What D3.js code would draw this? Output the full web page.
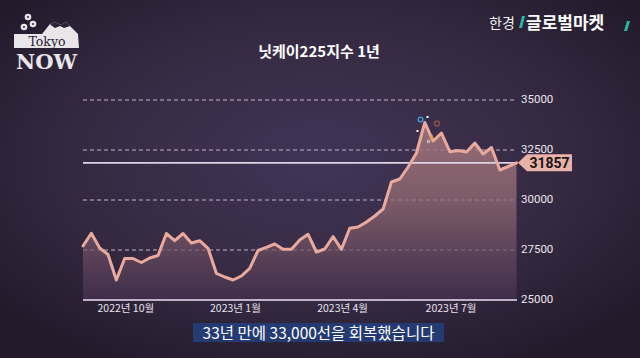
<!DOCTYPE html>
<html><head><meta charset="utf-8">
<script src="https://cdn.jsdelivr.net/npm/d3@7"></script>
<style>html,body{margin:0;padding:0;background:#2b2038;overflow:hidden}svg{display:block}</style>
</head><body><svg id="c" width="640" height="358"></svg>
<script>
// ---- data ----
const dates = ["2022-08-26","2022-09-02","2022-09-09","2022-09-16","2022-09-23","2022-09-30",
"2022-10-07","2022-10-14","2022-10-21","2022-10-28","2022-11-04","2022-11-11","2022-11-18","2022-11-25",
"2022-12-02","2022-12-09","2022-12-16","2022-12-23","2022-12-30","2023-01-06","2023-01-13","2023-01-20",
"2023-01-27","2023-02-03","2023-02-10","2023-02-17","2023-02-24","2023-03-03","2023-03-10","2023-03-17",
"2023-03-24","2023-03-31","2023-04-07","2023-04-14","2023-04-21","2023-04-28","2023-05-05","2023-05-12",
"2023-05-19","2023-05-26","2023-06-02","2023-06-09","2023-06-16","2023-06-23","2023-06-30","2023-07-07",
"2023-07-14","2023-07-21","2023-07-28","2023-08-04","2023-08-11","2023-08-18","2023-08-25"];
const values = [27700,28335,27600,27275,26000,27075,27075,26875,27100,27225,28325,27965,28325,27850,
27965,27585,26335,26150,26000,26200,26585,27475,27635,27800,27535,27535,28000,28285,27400,27550,28165,
27535,28585,28650,28900,29200,29550,30900,31050,31650,32350,33875,32950,33350,32415,32475,32400,32850,
32300,32625,31500,31675,31857];
const yTicks = [25000, 27500, 30000, 32500, 35000];
const xTickDates = ["2022-10-01","2023-01-01","2023-04-01","2023-07-01"];
const xTickLabels = ["2022년 10월","2023년 1월","2023년 4월","2023년 7월"];
const lastValue = 31857;
const title = "닛케이225지수 1년";
const caption = "33년 만에 33,000선을 회복했습니다";

// ---- setup ----
const parse = d3.timeParse("%Y-%m-%d");
const data = dates.map((d,i)=>({date:parse(d), v:values[i]}));
const svg = d3.select("#c");
const KR = "'Noto Sans CJK KR','Noto Sans',sans-serif";
const NUM = "Roboto,'Noto Sans',sans-serif";
const defs = svg.append("defs");

const bg = defs.append("radialGradient").attr("id","bg").attr("cx","50%").attr("cy","45%").attr("r","65%");
bg.append("stop").attr("offset","0%").attr("stop-color","#413457");
bg.append("stop").attr("offset","60%").attr("stop-color","#352941");
bg.append("stop").attr("offset","100%").attr("stop-color","#221a2b");
svg.append("rect").attr("width",640).attr("height",358).attr("fill","url(#bg)");

const x = d3.scaleTime().domain(d3.extent(data,d=>d.date)).range([83,516.5]);
const y = d3.scaleLinear().domain([25000,35000]).range([300,100]);

const ag = defs.append("linearGradient").attr("id","ag").attr("gradientUnits","userSpaceOnUse")
  .attr("x1",0).attr("x2",0).attr("y1",120).attr("y2",300);
ag.append("stop").attr("offset","0%").attr("stop-color","#986e78");
ag.append("stop").attr("offset","45%").attr("stop-color","#7c5b68");
ag.append("stop").attr("offset","100%").attr("stop-color","#3e2d4a");

// grid lines
const gridVals = yTicks.filter(t=>t!==25000);
svg.append("g").selectAll("line").data(gridVals).join("line")
  .attr("x1",83).attr("x2",517).attr("y1",d=>y(d)).attr("y2",d=>y(d))
  .attr("stroke","#a397b0").attr("stroke-width",1).attr("stroke-dasharray","4,3");

// area
svg.append("path").datum(data)
  .attr("d", d3.area().x(d=>x(d.date)).y0(y(25000)).y1(d=>y(d.v)))
  .attr("fill","url(#ag)");

// dashed lines over area (visible through)
svg.append("g").selectAll("line").data(gridVals).join("line")
  .attr("x1",83).attr("x2",517).attr("y1",d=>y(d)).attr("y2",d=>y(d))
  .attr("stroke","#b8a9b8").attr("stroke-opacity",0.45).attr("stroke-width",1).attr("stroke-dasharray","4,3");

// baseline
svg.append("line").attr("x1",83).attr("x2",517).attr("y1",y(25000)).attr("y2",y(25000))
  .attr("stroke","#bdb3c6").attr("stroke-width",2);

// y labels
svg.append("g").selectAll("text").data(yTicks).join("text")
  .attr("x",521).attr("y",d=>y(d)).attr("dy","0.28em")
  .attr("fill","#ebe6ef").attr("font-family",NUM).attr("font-size",11.5).text(d=>d);

// current value line
svg.append("line").attr("x1",83).attr("x2",518).attr("y1",y(lastValue)).attr("y2",y(lastValue))
  .attr("stroke","#ddd3e3").attr("stroke-width",1.6);

// line
svg.append("path").datum(data)
  .attr("d", d3.line().x(d=>x(d.date)).y(d=>y(d.v)))
  .attr("fill","none").attr("stroke","#eaa99d").attr("stroke-width",3)
  .attr("stroke-linejoin","round").attr("stroke-linecap","round");

// tag
const ty = y(lastValue);
svg.append("path").attr("d",`M${518},${ty} L${527},${ty-8.5} L${572},${ty-8.5} L${572},${ty+8.5} L${527},${ty+8.5} Z`)
  .attr("fill","#e8b2a8");
svg.append("text").attr("x",549.5).attr("y",ty+5.6).attr("text-anchor","middle")
  .attr("font-family",NUM).attr("font-weight",700).attr("font-size",14).attr("fill","#1b1418").text(lastValue);

// x labels
svg.append("g").selectAll("text").data(xTickDates).join("text")
  .attr("x",d=>x(parse(d))).attr("y",312).attr("text-anchor","middle")
  .attr("fill","#e8e2ee").attr("font-family",KR).attr("font-size",10.5).text((d,i)=>xTickLabels[i]);

// title
svg.append("text").attr("x",319).attr("y",57).attr("text-anchor","middle")
  .attr("fill","#ffffff").attr("font-family",KR).attr("font-weight",700).attr("font-size",15).text(title);

// caption
svg.append("rect").attr("x",193).attr("y",323).attr("width",251).attr("height",19).attr("fill","#243a72");
svg.append("text").attr("x",318.5).attr("y",338.5).attr("text-anchor","middle")
  .attr("fill","#ffffff").attr("font-family",KR).attr("font-size",15.5).text(caption);

// confetti near peak
const conf = svg.append("g");
conf.append("circle").attr("cx",420.5).attr("cy",119.5).attr("r",2.3).attr("fill","none").attr("stroke","#3e9fe0").attr("stroke-width",1.3);
conf.append("circle").attr("cx",437).attr("cy",123.5).attr("r",2.5).attr("fill","none").attr("stroke","#8e4e3f").attr("stroke-width",1.5);
conf.append("rect").attr("x",426.5).attr("y",116).attr("width",2).attr("height",2).attr("fill","#fff");
conf.append("rect").attr("x",416.5).attr("y",130).attr("width",2).attr("height",2).attr("fill","#fff");
conf.append("circle").attr("cx",428.5).attr("cy",141.5).attr("r",1.2).attr("fill","none").attr("stroke","#fff").attr("stroke-width",0.8);
conf.append("path").attr("d","M430,139 L432,134 L434,139 Z").attr("fill","#e8a040");

// top-left logo
const lg = svg.append("g");
lg.append("path").attr("d","M14,48 L14,34 L42,34 L50,24 L55,22 L61,25 L66,22 L72,28 L78,34 L79,48 Z").attr("fill","#e9e6ea");
lg.append("path").attr("d","M50,24 L55,22 L61,25 L66,22 L70,26 L64,28 L60,26 L55,28 L52,26 Z").attr("fill","#2a2138");
lg.append("text").attr("x",47).attr("y",46).attr("text-anchor","middle").attr("fill","#2a2138")
  .attr("font-family","'DejaVu Serif',serif").attr("font-size",12.5).text("Tokyo");
lg.append("text").attr("x",46.5).attr("y",69).attr("text-anchor","middle").attr("fill","#e9e6ea")
  .attr("font-family","'DejaVu Serif',serif").attr("font-weight",700).attr("font-size",21).text("NOW");
[[28,17],[33,24],[24,27]].forEach(([cx,cy])=>{
  lg.append("circle").attr("cx",cx).attr("cy",cy).attr("r",3.3).attr("fill","#e9e6ea");
  lg.append("circle").attr("cx",cx).attr("cy",cy).attr("r",1).attr("fill","#2a2138");
});

// top-right logo
const rg = svg.append("g");
rg.append("text").attr("x",489).attr("y",28).attr("fill","#f2f2f2").attr("font-family",KR).attr("font-size",14).text("한경");
rg.append("path").attr("d","M519,28 L522,16 L525,16 L522,28 Z").attr("fill","#2fb3a6");
rg.append("text").attr("x",526).attr("y",29).attr("fill","#ffffff").attr("font-family",KR).attr("font-weight",700).attr("font-size",17).text("글로벌마켓");
rg.append("path").attr("d","M624,31 L627,21 L630,21 L627,31 Z").attr("fill","#2fb3a6");
</script></body></html>
